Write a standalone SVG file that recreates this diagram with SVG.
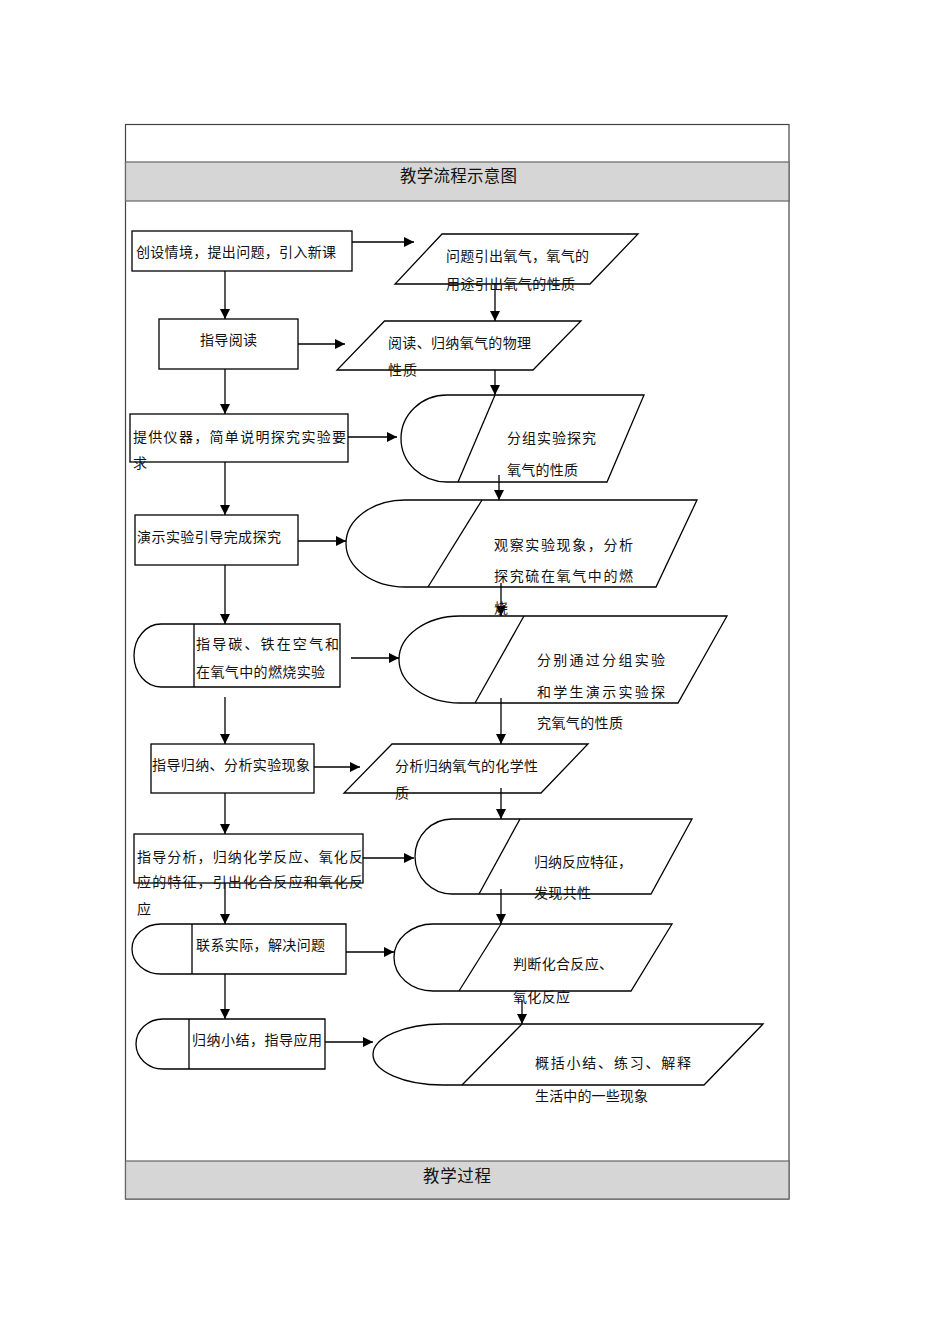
<svg xmlns="http://www.w3.org/2000/svg" width="950" height="1344" viewBox="0 0 950 1344">
<style>
text{font-family:"Noto Sans CJK SC","Noto Sans",sans-serif;font-size:14px;fill:#111;}
.t{font-size:16.5px;}
.box{fill:none;stroke:#000;stroke-width:1.3;}
.ln{fill:none;stroke:#000;stroke-width:1.3;}
.band{fill:#d6d6d6;stroke:#666;stroke-width:1.2;}
</style>
<defs>
<marker id="ah" viewBox="0 0 10 10" refX="10" refY="5" markerWidth="10" markerHeight="10" markerUnits="userSpaceOnUse" orient="auto">
<path d="M0,0 L10,5 L0,10 Z" fill="#000"/>
</marker>
</defs>
<rect width="950" height="1344" fill="#fff"/>
<g id="frame">
<rect x="125.5" y="124.5" width="663.5" height="1074.5" fill="none" stroke="#444" stroke-width="1.2"/>
<rect class="band" x="125.5" y="162" width="663.5" height="39"/>
<text class="t" x="400" y="182" textLength="117" lengthAdjust="spacing">教学流程示意图</text>
<rect class="band" x="125.5" y="1161" width="663.5" height="38"/>
<text class="t" x="423" y="1182" textLength="68" lengthAdjust="spacing">教学过程</text>
</g>
<g id="connectors">
<line class="ln" x1="352" y1="242" x2="414" y2="242" marker-end="url(#ah)"/>
<line class="ln" x1="225" y1="271" x2="225" y2="319" marker-end="url(#ah)"/>
<line class="ln" x1="298" y1="344" x2="345" y2="344" marker-end="url(#ah)"/>
<line class="ln" x1="495" y1="284" x2="495" y2="321" marker-end="url(#ah)"/>
<line class="ln" x1="225" y1="369" x2="225" y2="414" marker-end="url(#ah)"/>
<line class="ln" x1="348" y1="437" x2="397" y2="437" marker-end="url(#ah)"/>
<line class="ln" x1="495" y1="370" x2="495" y2="395" marker-end="url(#ah)"/>
<line class="ln" x1="225" y1="462" x2="225" y2="515" marker-end="url(#ah)"/>
<line class="ln" x1="298" y1="541" x2="346" y2="541" marker-end="url(#ah)"/>
<line class="ln" x1="499" y1="475" x2="499" y2="500" marker-end="url(#ah)"/>
<line class="ln" x1="225" y1="565" x2="225" y2="624" marker-end="url(#ah)"/>
<line class="ln" x1="351" y1="658" x2="399" y2="658" marker-end="url(#ah)"/>
<line class="ln" x1="501" y1="583" x2="501" y2="616" marker-end="url(#ah)"/>
<line class="ln" x1="225" y1="697" x2="225" y2="744" marker-end="url(#ah)"/>
<line class="ln" x1="314" y1="767" x2="360" y2="767" marker-end="url(#ah)"/>
<line class="ln" x1="501" y1="698" x2="501" y2="744" marker-end="url(#ah)"/>
<line class="ln" x1="225" y1="793" x2="225" y2="834" marker-end="url(#ah)"/>
<line class="ln" x1="363" y1="858" x2="414" y2="858" marker-end="url(#ah)"/>
<line class="ln" x1="501" y1="788" x2="501" y2="819" marker-end="url(#ah)"/>
<line class="ln" x1="225" y1="883" x2="225" y2="924" marker-end="url(#ah)"/>
<line class="ln" x1="346" y1="952" x2="394" y2="952" marker-end="url(#ah)"/>
<line class="ln" x1="501" y1="889" x2="501" y2="924" marker-end="url(#ah)"/>
<line class="ln" x1="225" y1="974" x2="225" y2="1019" marker-end="url(#ah)"/>
<line class="ln" x1="325" y1="1042" x2="373" y2="1042" marker-end="url(#ah)"/>
<line class="ln" x1="522" y1="1000" x2="522" y2="1024" marker-end="url(#ah)"/>
</g>
<g id="n1">
<rect class="box" x="132" y="231" width="220" height="40"/>
<text x="136" y="257" textLength="200" lengthAdjust="spacing">创设情境，提出问题，引入新课</text>
</g>
<g id="n2">
<path class="box" d="M442,234 L638,234 L590,284 L395,284 Z"/>
<text x="446" y="261" textLength="143" lengthAdjust="spacing">问题引出氧气，氧气的</text>
<text x="446" y="289" textLength="129" lengthAdjust="spacing">用途引出氧气的性质</text>
</g>
<g id="n3">
<rect class="box" x="159" y="319" width="139" height="50"/>
<text x="200" y="345" textLength="57" lengthAdjust="spacing">指导阅读</text>
</g>
<g id="n4">
<path class="box" d="M384.5,321 L581,321 L533,370 L337,370 Z"/>
<text x="388" y="348" textLength="143" lengthAdjust="spacing">阅读、归纳氧气的物理</text>
<text x="388" y="375" textLength="29" lengthAdjust="spacing">性质</text>
</g>
<g id="n5">
<rect class="box" x="130" y="414" width="218" height="48"/>
<text x="133" y="442" textLength="213" lengthAdjust="spacing">提供仪器，简单说明探究实验要</text>
<text x="133" y="468">求</text>
</g>
<g id="n6">
<path class="box" d="M447,395 L644,395 L607,482 L447,482 A46,43.5 0 0 1 447,395 Z"/>
<line class="ln" x1="495" y1="395" x2="458" y2="482"/>
<text x="507" y="443" textLength="89" lengthAdjust="spacing">分组实验探究</text>
<text x="507" y="475" textLength="71" lengthAdjust="spacing">氧气的性质</text>
</g>
<g id="n7">
<rect class="box" x="135" y="515" width="163" height="50"/>
<text x="137" y="542" textLength="144" lengthAdjust="spacing">演示实验引导完成探究</text>
</g>
<g id="n8">
<path class="box" d="M405,500 L697,500 L656,587 L405,587 A59,43.5 0 0 1 405,500 Z"/>
<line class="ln" x1="482" y1="500" x2="428" y2="587"/>
<text x="494" y="550" textLength="139" lengthAdjust="spacing">观察实验现象，分析</text>
<text x="494" y="581" textLength="139" lengthAdjust="spacing">探究硫在氧气中的燃</text>
<text x="494" y="613">烧</text>
</g>
<g id="n9">
<path class="box" d="M161,624 L340,624 L340,687 L161,687 A27,31.5 0 0 1 161,624 Z"/>
<line class="ln" x1="194" y1="624" x2="194" y2="687"/>
<text x="196" y="649" textLength="143" lengthAdjust="spacing">指导碳、铁在空气和</text>
<text x="196" y="677" textLength="129" lengthAdjust="spacing">在氧气中的燃烧实验</text>
</g>
<g id="n10">
<path class="box" d="M460,616 L727,616 L678,703 L460,703 A61,43.5 0 0 1 460,616 Z"/>
<line class="ln" x1="524" y1="616" x2="475" y2="703"/>
<text x="537" y="665" textLength="128" lengthAdjust="spacing">分别通过分组实验</text>
<text x="537" y="697" textLength="128" lengthAdjust="spacing">和学生演示实验探</text>
<text x="537" y="728" textLength="86" lengthAdjust="spacing">究氧气的性质</text>
</g>
<g id="n11">
<rect class="box" x="151" y="744" width="163" height="49"/>
<text x="152" y="770" textLength="158" lengthAdjust="spacing">指导归纳、分析实验现象</text>
</g>
<g id="n12">
<path class="box" d="M392,744 L588,744 L541,793 L344,793 Z"/>
<text x="395" y="771" textLength="143" lengthAdjust="spacing">分析归纳氧气的化学性</text>
<text x="395" y="798">质</text>
</g>
<g id="n13">
<rect class="box" x="134" y="834" width="229" height="49"/>
<text x="137" y="862" textLength="226" lengthAdjust="spacing">指导分析，归纳化学反应、氧化反</text>
<text x="137" y="887" textLength="226" lengthAdjust="spacing">应的特征，引出化合反应和氧化反</text>
<text x="137" y="914">应</text>
</g>
<g id="n14">
<path class="box" d="M452,819 L692,819 L651,894 L452,894 A37,37.5 0 0 1 452,819 Z"/>
<line class="ln" x1="520" y1="819" x2="479" y2="894"/>
<text x="534" y="867" textLength="98" lengthAdjust="spacing">归纳反应特征，</text>
<text x="534" y="898" textLength="57" lengthAdjust="spacing">发现共性</text>
</g>
<g id="n15">
<path class="box" d="M161,924 L346,924 L346,974 L161,974 A29,25 0 0 1 161,924 Z"/>
<line class="ln" x1="192" y1="924" x2="192" y2="974"/>
<text x="196" y="950" textLength="129" lengthAdjust="spacing">联系实际，解决问题</text>
</g>
<g id="n16">
<path class="box" d="M433,924 L672,924 L631,991 L433,991 A39,33.5 0 0 1 433,924 Z"/>
<line class="ln" x1="501" y1="924" x2="459" y2="991"/>
<text x="513" y="969" textLength="100" lengthAdjust="spacing">判断化合反应、</text>
<text x="513" y="1002" textLength="57" lengthAdjust="spacing">氧化反应</text>
</g>
<g id="n17">
<path class="box" d="M163,1019 L325,1019 L325,1069 L163,1069 A27,25 0 0 1 163,1019 Z"/>
<line class="ln" x1="189" y1="1019" x2="189" y2="1069"/>
<text x="192" y="1045" textLength="130" lengthAdjust="spacing">归纳小结，指导应用</text>
</g>
<g id="n18">
<path class="box" d="M443,1024 L763,1024 L704,1085 L443,1085 A70,30.5 0 0 1 443,1024 Z"/>
<line class="ln" x1="522" y1="1024" x2="462" y2="1085"/>
<text x="535" y="1068" textLength="156" lengthAdjust="spacing">概括小结、练习、解释</text>
<text x="535" y="1101" textLength="113" lengthAdjust="spacing">生活中的一些现象</text>
</g>
</svg>
